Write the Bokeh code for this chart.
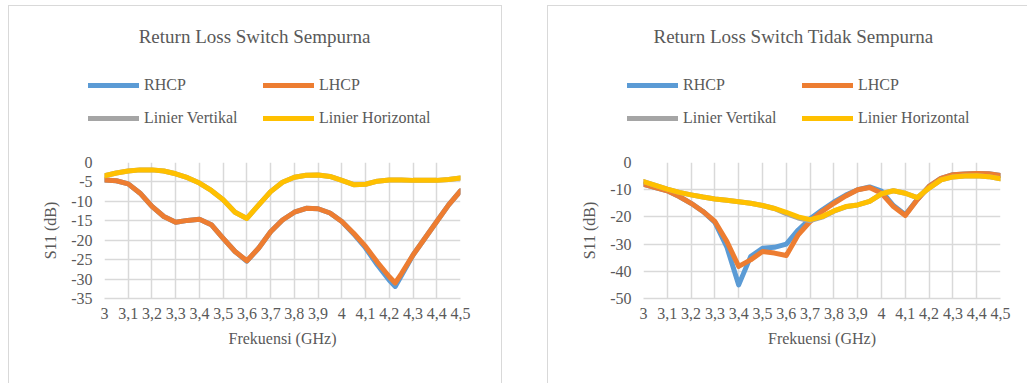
from bokeh.plotting import figure
from bokeh.layouts import row, column, Spacer
from bokeh.models import Legend, LegendItem, Label, FixedTicker, Range1d
from bokeh.embed import file_html
from bokeh.resources import INLINE

# Frequency axis ticks (GHz) and their comma-decimal labels
x_ticks = [3.0, 3.1, 3.2, 3.3, 3.4, 3.5, 3.6, 3.7, 3.8, 3.9, 4.0, 4.1, 4.2, 4.3, 4.4, 4.5]
x_tick_labels = ["3", "3,1", "3,2", "3,3", "3,4", "3,5", "3,6", "3,7", "3,8", "3,9",
                 "4", "4,1", "4,2", "4,3", "4,4", "4,5"]

series_names = ["RHCP", "LHCP", "Linier Vertikal", "Linier Horizontal"]
series_colors = ["#5B9BD5", "#ED7D31", "#A5A5A5", "#FFC000"]

# --- Return Loss Switch Sempurna ---
freq_a = [3.0, 3.05, 3.1, 3.15, 3.2, 3.25, 3.3, 3.35, 3.4, 3.45, 3.5, 3.55, 3.6, 3.65,
          3.7, 3.75, 3.8, 3.85, 3.9, 3.95, 4.0, 4.05, 4.1, 4.15, 4.2, 4.225, 4.25, 4.3,
          4.35, 4.4, 4.45, 4.5]
rhcp_a = [-4.5, -4.7, -5.5, -7.9, -11.3, -13.9, -15.4, -14.9, -14.6, -16.0, -19.5, -22.9,
          -25.4, -22.0, -17.8, -14.8, -12.8, -11.8, -11.9, -13.0, -15.2, -18.4, -22.0,
          -26.4, -30.3, -31.9, -29.2, -23.8, -19.5, -15.2, -10.9, -7.3]
lhcp_a = [-4.5, -4.7, -5.5, -7.9, -11.3, -13.9, -15.4, -14.9, -14.6, -16.0, -19.5, -22.9,
          -25.3, -22.0, -17.8, -14.8, -12.8, -11.8, -11.9, -13.0, -15.2, -18.2, -21.6,
          -25.7, -29.4, -31.0, -28.7, -23.8, -19.5, -15.2, -10.9, -7.3]
vert_a = [-3.4, -2.7, -2.2, -1.9, -1.9, -2.2, -2.9, -3.9, -5.3, -7.2, -9.6, -12.8,
          -14.4, -10.9, -7.5, -5.1, -3.8, -3.3, -3.2, -3.6, -4.6, -5.7, -5.6,
          -4.8, -4.5, -4.5, -4.5, -4.6, -4.6, -4.6, -4.4, -4.0]
horz_a = [-3.4, -2.7, -2.2, -1.9, -1.9, -2.2, -2.9, -3.9, -5.3, -7.2, -9.6, -12.8,
          -14.4, -10.9, -7.5, -5.1, -3.8, -3.3, -3.2, -3.6, -4.6, -5.7, -5.6,
          -4.8, -4.5, -4.5, -4.5, -4.6, -4.6, -4.6, -4.4, -4.0]
y_ticks_a = [0, -5, -10, -15, -20, -25, -30, -35]

# --- Return Loss Switch Tidak Sempurna ---
freq_b = [3.0, 3.05, 3.1, 3.15, 3.2, 3.25, 3.3, 3.35, 3.4, 3.45, 3.5, 3.55, 3.6, 3.65,
          3.7, 3.75, 3.8, 3.85, 3.9, 3.95, 4.0, 4.05, 4.1, 4.15, 4.2, 4.25, 4.3, 4.35,
          4.4, 4.45, 4.5]
rhcp_b = [-8.0, -9.2, -10.4, -12.5, -15.0, -18.0, -22.0, -31.0, -45.0, -34.6, -31.5, -31.2,
          -30.0, -24.8, -20.7, -17.5, -14.5, -12.0, -10.0, -9.0, -10.5, -15.8, -19.2,
          -13.6, -8.8, -5.8, -4.5, -4.2, -4.0, -4.1, -4.8]
lhcp_b = [-8.0, -9.2, -10.4, -12.5, -15.0, -18.0, -21.7, -29.0, -38.2, -35.8, -32.7, -33.3,
          -34.2, -26.6, -21.7, -18.0, -15.0, -12.3, -10.0, -9.2, -11.3, -16.2, -19.5,
          -13.7, -8.8, -5.8, -4.5, -4.2, -4.0, -4.1, -4.8]
vert_b = [-7.0, -8.4, -9.8, -11.0, -11.9, -12.7, -13.4, -13.9, -14.4, -15.0, -15.8, -16.9,
          -18.8, -20.4, -21.4, -20.1, -17.9, -16.3, -15.6, -14.3, -11.5, -10.4, -11.3,
          -12.9, -9.4, -6.4, -5.3, -5.0, -4.9, -5.2, -6.0]
horz_b = [-7.0, -8.4, -9.8, -11.0, -11.9, -12.7, -13.4, -13.9, -14.4, -15.0, -15.8, -16.9,
          -18.3, -20.0, -21.0, -19.9, -17.8, -16.2, -15.6, -14.3, -11.5, -10.4, -11.3,
          -12.9, -9.4, -6.4, -5.3, -5.0, -4.9, -5.2, -6.0]
y_ticks_b = [0, -10, -20, -30, -40, -50]

FONT = "Liberation Serif, Times New Roman, serif"
TEXT = "#595959"
GRID = "#D9D9D9"
LINE_W = 5
HEADER_H = 140


def make_header(title, width):
    """Chart title plus a two-column legend, drawn above the plot area."""
    h = figure(width=width, height=HEADER_H, output_backend="svg", toolbar_location=None,
               x_range=Range1d(0, width), y_range=Range1d(0, HEADER_H),
               min_border=0, x_axis_type=None, y_axis_type=None)
    h.frame_align = False
    h.grid.visible = False
    h.outline_line_color = None
    h.background_fill_color = "white"
    h.border_fill_color = "white"

    # legend swatch renderers: their points lie outside the header's ranges
    swatches = [h.line([-20, -10], [-20, -10], line_color=c, line_width=LINE_W,
                       line_cap="round") for c in series_colors]
    common = dict(orientation="vertical", glyph_width=51, glyph_height=20,
                  label_height=20, spacing=13, padding=0, margin=0,
                  border_line_color=None, background_fill_alpha=0,
                  label_text_font=FONT, label_text_font_size="16px",
                  label_text_color=TEXT, label_standoff=5)
    leg1 = Legend(items=[LegendItem(label=series_names[0], renderers=[swatches[0]]),
                         LegendItem(label=series_names[2], renderers=[swatches[2]])],
                  location=(79, 18), **common)
    leg2 = Legend(items=[LegendItem(label=series_names[1], renderers=[swatches[1]]),
                         LegendItem(label=series_names[3], renderers=[swatches[3]])],
                  location=(254, 18), **common)
    h.add_layout(leg1)
    h.add_layout(leg2)
    h.add_layout(Label(x=245, y=110, x_units="screen", y_units="screen", text=title,
                       text_align="center", text_baseline="middle", text_font=FONT,
                       text_font_size="19px", text_color=TEXT))
    return h


def make_plot(freq, values, y_ticks, width, right_border):
    p = figure(width=width, height=238, output_backend="svg", toolbar_location=None,
               x_range=Range1d(3.0, 4.5), y_range=Range1d(min(y_ticks), 0),
               min_border_left=95, min_border_right=right_border,
               min_border_top=16, min_border_bottom=86)
    p.frame_align = False
    p.background_fill_color = "white"
    p.border_fill_color = "white"
    p.outline_line_color = None

    p.xaxis.ticker = FixedTicker(ticks=x_ticks)
    p.xaxis.major_label_overrides = dict(zip(x_ticks, x_tick_labels))
    p.yaxis.ticker = FixedTicker(ticks=y_ticks)
    p.yaxis.major_label_overrides = {t: str(t) for t in y_ticks}
    p.xgrid.ticker = FixedTicker(ticks=x_ticks)
    p.ygrid.ticker = FixedTicker(ticks=y_ticks)
    for g in (p.xgrid, p.ygrid):
        g.grid_line_color = GRID
        g.grid_line_width = 1.5

    for ax in (p.xaxis, p.yaxis):
        ax.major_tick_line_color = None
        ax.minor_tick_line_color = None
        ax.major_tick_out = 0
        ax.major_tick_in = 0
        ax.minor_tick_out = 0
        ax.major_label_text_font = FONT
        ax.major_label_text_font_size = "16px"
        ax.major_label_text_color = TEXT
        ax.axis_label_text_font = FONT
        ax.axis_label_text_font_size = "16px"
        ax.axis_label_text_color = TEXT
        ax.axis_label_text_font_style = "normal"
    p.xaxis.axis_line_color = GRID
    p.xaxis.axis_line_width = 1.5
    p.yaxis.axis_line_color = None
    p.xaxis.axis_label = "Frekuensi (GHz)"
    p.yaxis.axis_label = "S11 (dB)"
    p.xaxis.major_label_standoff = 9
    p.xaxis.axis_label_standoff = 8
    p.yaxis.major_label_standoff = 12
    p.yaxis.axis_label_standoff = 9

    for vals, color in zip(values, series_colors):
        p.line(freq, vals, line_color=color, line_width=LINE_W,
               line_cap="round", line_join="round")
    return p


border = "1px solid #D9D9D9"
chart1 = column(make_header("Return Loss Switch Sempurna", 492),
                make_plot(freq_a, [rhcp_a, lhcp_a, vert_a, horz_a], y_ticks_a, 492, 41),
                styles={"border-top": border, "border-left": border, "border-right": border})
chart2 = column(make_header("Return Loss Switch Tidak Sempurna", 482),
                make_plot(freq_b, [rhcp_b, lhcp_b, vert_b, horz_b], y_ticks_b, 482, 30),
                styles={"border-top": border, "border-left": border})

layout = column(Spacer(height=5),
                row(Spacer(width=8), chart1, Spacer(width=45), chart2))

open("out.html", "w").write(file_html(layout, INLINE))
